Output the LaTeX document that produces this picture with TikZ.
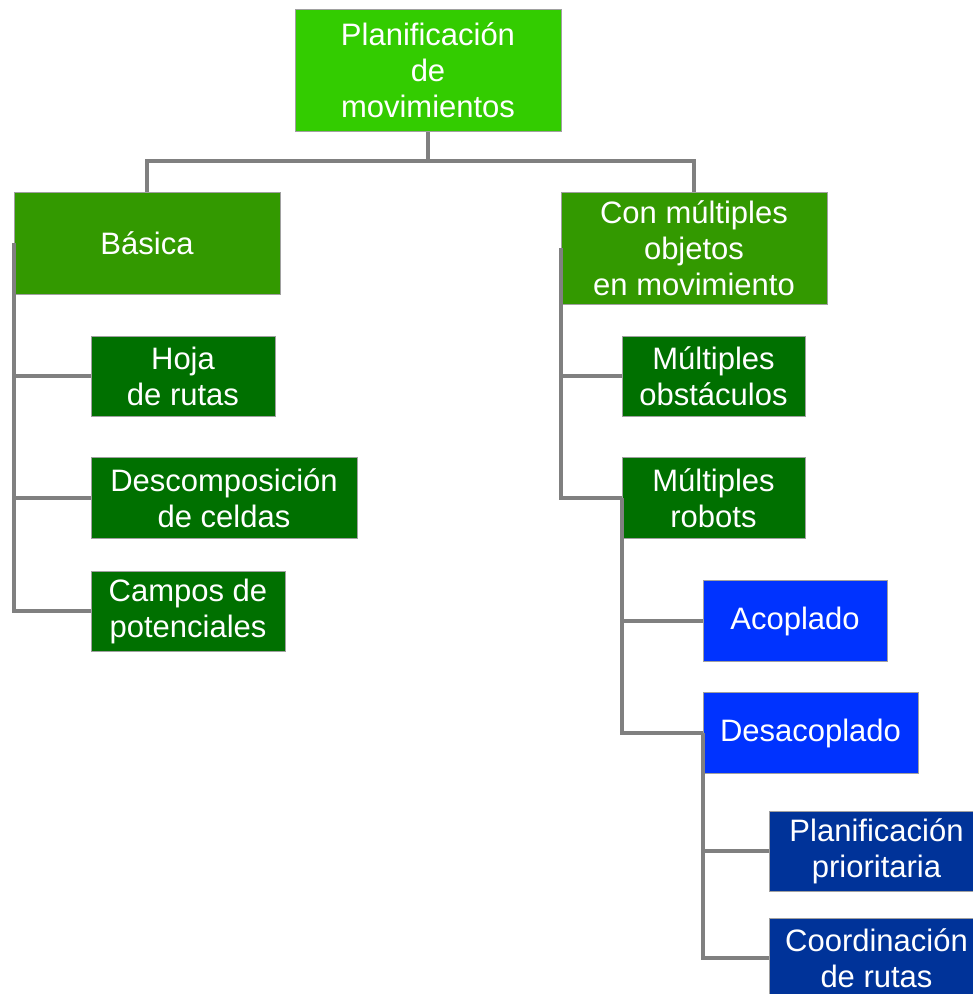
\documentclass[tikz,border=0pt]{standalone}
\usepackage{fontspec}
\setmainfont{Liberation Sans}
\definecolor{cRoot}{HTML}{33CC00}
\definecolor{cLvlTwo}{HTML}{339900}
\definecolor{cLvlThree}{HTML}{007000}
\definecolor{cBlue}{HTML}{0033FF}
\definecolor{cDBlue}{HTML}{003399}
\definecolor{cLine}{HTML}{808080}
\definecolor{cEdge}{HTML}{A0A0A0}
\begin{document}
\begin{tikzpicture}[x=1pt,y=-1pt,
  box/.style={draw=cEdge, line width=1pt, inner sep=0pt, align=center, text=white,
    font=\fontsize{31}{36}\selectfont},
  conn/.style={draw=cLine, line width=4pt}]
\useasboundingbox (0,0) rectangle (973,994);
\clip (0,0) rectangle (973,994);
\node[box, fill=cRoot, minimum width=266pt, minimum height=122pt] (root) at (428,70) {Planificación\\de\\movimientos};
\node[box, fill=cLvlTwo, minimum width=266pt, minimum height=102pt] (basica) at (147,243) {Básica};
\node[box, fill=cLvlTwo, minimum width=266pt, minimum height=112pt] (con) at (694,248) {Con múltiples\\objetos\\en movimiento};
\node[box, fill=cLvlThree, minimum width=184pt, minimum height=80pt] (hoja) at (183,376) {Hoja\\de rutas};
\node[box, fill=cLvlThree, minimum width=266pt, minimum height=81pt] (desc) at (224,498) {Descomposición\\de celdas};
\node[box, fill=cLvlThree, minimum width=194pt, minimum height=80pt] (campos) at (188,611) {Campos de\\potenciales};
\node[box, fill=cLvlThree, minimum width=183pt, minimum height=80pt] (mobs) at (713.5,376) {Múltiples\\obstáculos};
\node[box, fill=cLvlThree, minimum width=183pt, minimum height=81pt] (mrob) at (713.5,498) {Múltiples\\robots};
\node[box, fill=cBlue, minimum width=184pt, minimum height=81pt] (acop) at (795,621) {Acoplado};
\node[box, fill=cBlue, minimum width=215pt, minimum height=81pt] (desac) at (810.5,733) {Desacoplado};
\node[box, fill=cDBlue, minimum width=215pt, minimum height=80pt] (prio) at (876.5,851) {Planificación\\prioritaria};
\node[box, fill=cDBlue, minimum width=215pt, minimum height=80pt] (coord) at (876.5,958) {Coordinación\\de rutas};
\coordinate (split) at (428,161);
\draw[conn] (root.south) -- (split) -| (basica.north);
\draw[conn] (split) -| (con.north);
\draw[conn] (basica.west) |- (hoja.west);
\draw[conn] (basica.west) |- (desc.west);
\draw[conn] (basica.west) |- (campos.west);
\draw[conn] (con.west) |- (mobs.west);
\draw[conn] (con.west) |- (mrob.west);
\draw[conn] (mrob.west) |- (acop.west);
\draw[conn] (mrob.west) |- (desac.west);
\draw[conn] (desac.west) |- (prio.west);
\draw[conn] (desac.west) |- (coord.west);
\end{tikzpicture}
\end{document}
